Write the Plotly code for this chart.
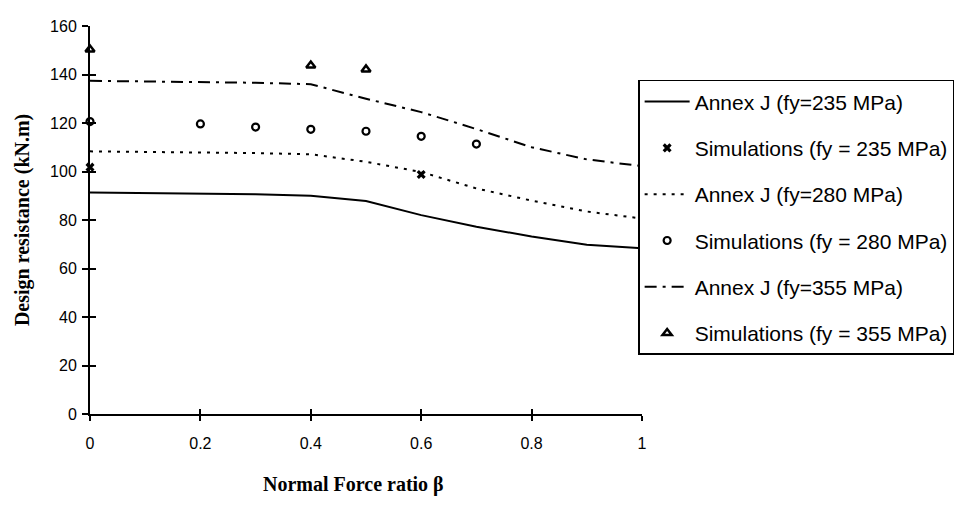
import plotly.graph_objects as go

beta_line = [0.0, 0.1, 0.2, 0.3, 0.4, 0.5, 0.6, 0.7, 0.8, 0.9, 1.0]
annex_235 = [91.3, 91.1, 90.9, 90.6, 90.0, 87.8, 82.0, 77.2, 73.2, 69.8, 68.3]
annex_280 = [108.3, 108.1, 107.9, 107.6, 107.1, 104.0, 99.8, 93.0, 88.0, 83.5, 80.6]
annex_355 = [137.4, 137.2, 137.0, 136.6, 136.0, 130.0, 124.5, 117.5, 110.0, 105.0, 102.2]

sim_235_x = [0.0, 0.6]
sim_235_y = [101.8, 98.8]
sim_280_x = [0.0, 0.2, 0.3, 0.4, 0.5, 0.6, 0.7]
sim_280_y = [120.6, 119.6, 118.3, 117.4, 116.6, 114.5, 111.3]
sim_355_x = [0.0, 0.4, 0.5]
sim_355_y = [150.3, 143.7, 142.1]

x_ticks = [0, 0.2, 0.4, 0.6, 0.8, 1]
x_tick_labels = ["0", "0.2", "0.4", "0.6", "0.8", "1"]
y_ticks = [0, 20, 40, 60, 80, 100, 120, 140, 160]

fig = go.Figure()
fig.add_trace(go.Scatter(x=beta_line, y=annex_235, mode="lines", name="Annex J (fy=235 MPa)",
                         line=dict(color="black", width=2), legendgroup="a"))
fig.add_trace(go.Scatter(x=sim_235_x, y=sim_235_y, mode="markers", name="Simulations (fy = 235 MPa)",
                         marker=dict(symbol="x", size=8, color="black"), legendgroup="b", cliponaxis=False))
fig.add_trace(go.Scatter(x=beta_line, y=annex_280, mode="lines", name="Annex J (fy=280 MPa)",
                         line=dict(color="black", width=2, dash="3px,6px"), legendgroup="c"))
fig.add_trace(go.Scatter(x=sim_280_x, y=sim_280_y, mode="markers", name="Simulations (fy = 280 MPa)",
                         marker=dict(symbol="circle-open", size=7, color="black", line=dict(width=2.2)),
                         legendgroup="d", cliponaxis=False))
fig.add_trace(go.Scatter(x=beta_line, y=annex_355, mode="lines", name="Annex J (fy=355 MPa)",
                         line=dict(color="black", width=2, dash="12px,6px,3px,6px"), legendgroup="e"))
fig.add_trace(go.Scatter(x=sim_355_x, y=sim_355_y, mode="markers", name="Simulations (fy = 355 MPa)",
                         marker=dict(symbol="triangle-up-open", size=8, color="black", line=dict(width=2.5)),
                         legendgroup="f", cliponaxis=False))

axis_font = dict(family="Liberation Sans, Arial", size=16, color="black")
fig.update_layout(
    width=965, height=499,
    margin=dict(l=82, r=331, t=10, b=93),
    plot_bgcolor="white", paper_bgcolor="white",
    showlegend=True,
    legend=dict(x=0.993, y=0.861, xanchor="left", yanchor="top",
                bordercolor="black", borderwidth=1.5, bgcolor="white",
                font=dict(family="Liberation Sans, Arial", size=21, color="black"),
                tracegroupgap=16, itemwidth=45, traceorder="grouped"),
    xaxis=dict(range=[0, 1], tickvals=x_ticks, ticktext=x_tick_labels, showgrid=False, zeroline=False,
               showline=True, linecolor="black", linewidth=2, ticks="outside", ticklen=5, tickwidth=1.5,
               tickcolor="black", tickfont=axis_font, ticklabelstandoff=9),
    yaxis=dict(range=[0, 160], tickvals=y_ticks, showgrid=False, zeroline=False,
               showline=True, linecolor="black", linewidth=2, ticks="outside", ticklen=6, tickwidth=1.5,
               tickcolor="black", tickfont=axis_font, ticklabelstandoff=2),
    xaxis2=dict(range=[0, 1], tickvals=x_ticks, overlaying="x", side="bottom", showticklabels=False,
                ticks="inside", ticklen=5, tickwidth=1.5, tickcolor="black", showgrid=False,
                zeroline=False, showline=False),
    yaxis2=dict(range=[0, 160], tickvals=y_ticks, overlaying="y", side="left", showticklabels=False,
                ticks="inside", ticklen=6, tickwidth=1.5, tickcolor="black", showgrid=False,
                zeroline=False, showline=False),
    annotations=[
        dict(text="<b>Normal Force ratio β</b>", xref="paper", yref="paper", x=0.478, y=-0.182,
             xanchor="center", yanchor="middle", showarrow=False,
             font=dict(family="Liberation Serif, Times New Roman", size=20, color="black")),
        dict(text="<b>Design resistance (kN.m)</b>", xref="paper", yref="paper", x=-0.123, y=0.5,
             xanchor="center", yanchor="middle", showarrow=False, textangle=-90,
             font=dict(family="Liberation Serif, Times New Roman", size=20, color="black")),
    ],
)
# invisible trace to activate the overlay axes for crossing ticks
fig.add_trace(go.Scatter(x=[0], y=[0], xaxis="x2", yaxis="y2", mode="markers",
                         marker=dict(opacity=0), showlegend=False, hoverinfo="skip"))

fig.write_html("out.html")
